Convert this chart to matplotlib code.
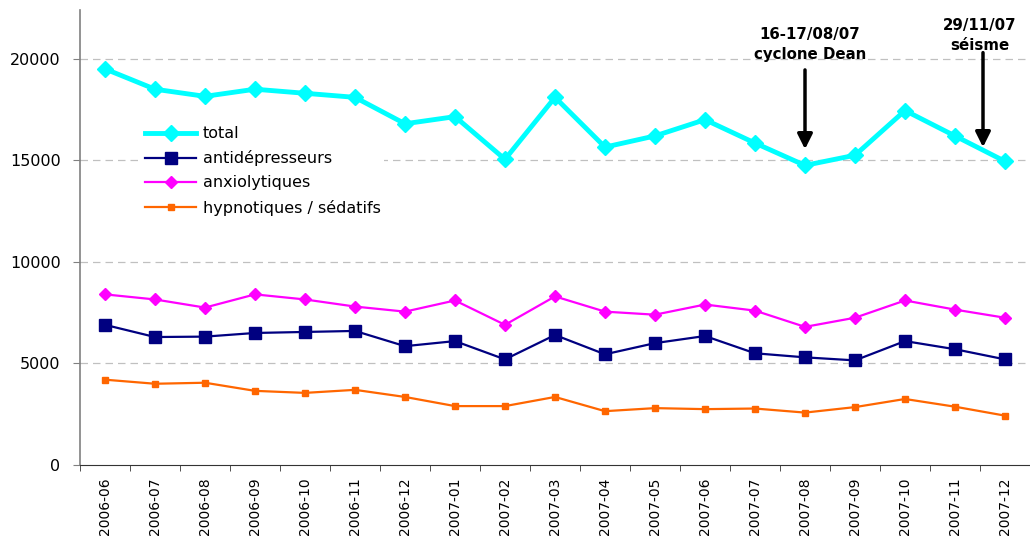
import matplotlib
matplotlib.use("Agg")
import matplotlib.pyplot as plt
import numpy as np

months = ["2006-06", "2006-07", "2006-08", "2006-09", "2006-10", "2006-11", "2006-12",
          "2007-01", "2007-02", "2007-03", "2007-04", "2007-05", "2007-06", "2007-07",
          "2007-08", "2007-09", "2007-10", "2007-11", "2007-12"]
total = [19500, 18500, 18150, 18500, 18300, 18100, 16800, 17150, 15050, 18100,
         15650, 16200, 17000, 15850, 14750, 15250, 17450, 16200, 14950]
antidepresseurs = [6900, 6300, 6320, 6500, 6550, 6600, 5850, 6100, 5200, 6400,
                   5450, 6000, 6350, 5500, 5300, 5150, 6100, 5700, 5200]
anxiolytiques = [8400, 8150, 7750, 8400, 8150, 7800, 7550, 8100, 6900, 8300,
                 7550, 7400, 7900, 7600, 6800, 7250, 8100, 7650, 7250]
hypnotiques = [4200, 4000, 4050, 3650, 3550, 3700, 3350, 2900, 2900, 3350,
               2650, 2800, 2750, 2780, 2580, 2850, 3250, 2870, 2430]
yticks = [0, 5000, 10000, 15000, 20000]
events = [("16-17/08/07\ncyclone Dean", "2007-08"), ("29/11/07\nséisme", "2007-11")]

plt.rcParams['font.family'] = ['DejaVu Sans']

fig = plt.figure(figsize=(10.30, 5.38), dpi=100)
ax = fig.add_axes([80/1030, 73/538, 950/1030, 455/538])

x = np.arange(len(months))
ax.plot(x, total, color='#00FFFF', lw=3.5, marker='D', ms=8, label='total', zorder=5)
ax.plot(x, antidepresseurs, color='#000080', lw=1.6, marker='s', ms=8, label='antidépresseurs', zorder=4)
ax.plot(x, anxiolytiques, color='#FF00FF', lw=1.6, marker='D', ms=6.5, label='anxiolytiques', zorder=4)
ax.plot(x, hypnotiques, color='#FF6600', lw=1.6, marker='s', ms=3.8, label='hypnotiques / sédatifs', zorder=4)

ax.set_xlim(-0.5, len(months) - 0.5)
ax.set_ylim(0, 22400)
ax.set_yticks(yticks)
ax.set_yticklabels([str(v) for v in yticks], fontsize=11.5)
for v in yticks[1:]:
    ax.axhline(v, color='#C0C0C0', lw=0.9, ls=(0, (6, 4)), zorder=1)

ax.set_xticks(x)
ax.set_xticklabels(months, rotation=90, fontsize=10)
ax.set_xticks(np.arange(len(months) + 1) - 0.5, minor=True)
ax.tick_params(axis='x', which='major', length=0, pad=9)
ax.tick_params(axis='x', which='minor', length=4, direction='out', color='#333333')
ax.tick_params(axis='y', length=5, direction='out', color='#808080', pad=9)

for s in ['top', 'right']:
    ax.spines[s].set_visible(False)
ax.spines['left'].set_color('#808080')
ax.spines['left'].set_linewidth(1.2)
ax.spines['bottom'].set_color('#333333')

for text, m in events:
    i = months.index(m)
    if m == "2007-08":
        xt, xa = i + 0.1, i
        ytxt_top = 21550
        y0, y1 = 19450, 15550
    else:
        xt, xa = i + 0.5, i + 0.56
        ytxt_top = 22000
        y0, y1 = 20300, 15650
    ax.text(xt, ytxt_top, text, ha='center', va='top', fontsize=10.8, fontweight='bold',
            linespacing=1.4)
    ax.annotate('', xy=(xa, y1), xytext=(xa, y0),
                arrowprops=dict(arrowstyle='-|>,head_width=0.45,head_length=0.9',
                                color='black', lw=2.5, shrinkA=0, shrinkB=0), zorder=6)

leg = ax.legend(loc='upper left', bbox_to_anchor=(62/950, 342/455), frameon=True,
                fontsize=11.5, handlelength=3.2, handletextpad=0.4, labelspacing=0.57,
                borderpad=0.2, borderaxespad=0)
leg.get_frame().set_edgecolor('none')
leg.get_frame().set_facecolor('white')
leg.get_frame().set_alpha(1)

fig.savefig('out.png', dpi=100)
